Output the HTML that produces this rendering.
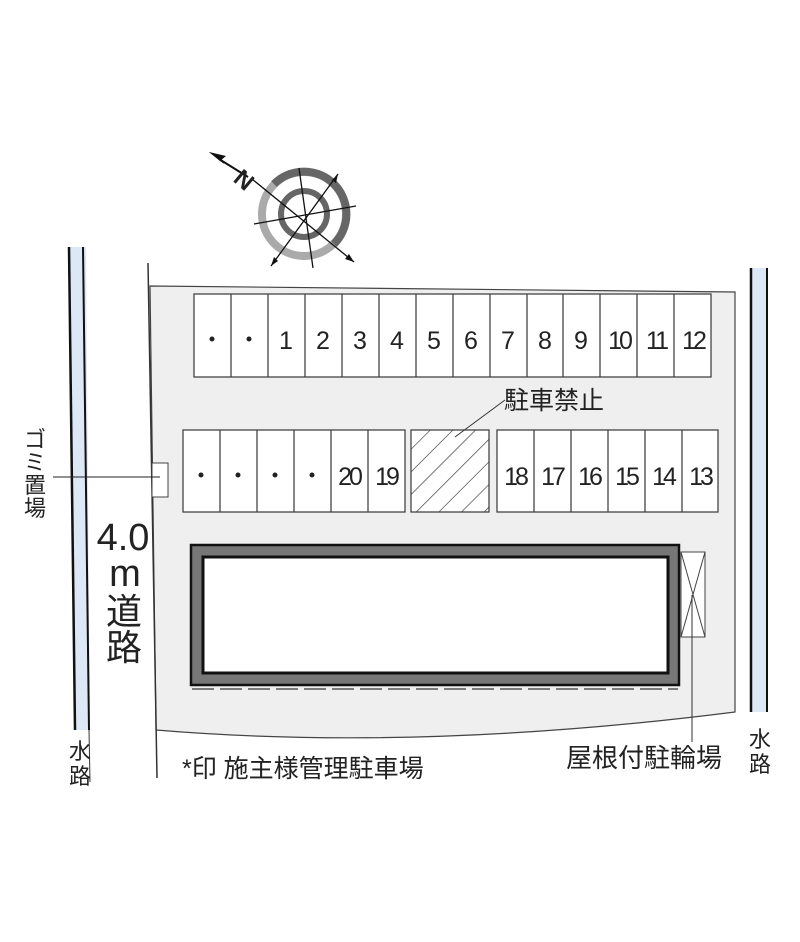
<!DOCTYPE html>
<html><head><meta charset="utf-8"><style>
html,body{margin:0;padding:0;background:#fff}
svg{display:block}
text{font-family:"Liberation Sans","Noto Sans CJK JP",sans-serif;fill:#222}
</style></head><body>
<svg width="800" height="942" viewBox="0 0 800 942" xmlns="http://www.w3.org/2000/svg">
<defs>
<pattern id="h" patternUnits="userSpaceOnUse" width="16" height="16" patternTransform="rotate(45)">
<rect width="16" height="16" fill="#fff"/><line x1="0" y1="0" x2="0" y2="16" stroke="#333" stroke-width="1.3"/>
</pattern>
</defs>
<polygon points="70,247 86,247 90,730 74,730" fill="#dde8f7"/>
<line x1="69" y1="247" x2="75" y2="730" stroke="#111" stroke-width="2.5"/>
<line x1="83" y1="247" x2="89" y2="730" stroke="#111" stroke-width="2"/>
<line x1="89" y1="730" x2="90" y2="782" stroke="#333" stroke-width="1"/>
<rect x="752" y="268" width="16" height="444" fill="#dde8f7"/>
<line x1="751" y1="268" x2="751" y2="712" stroke="#111" stroke-width="2.5"/>
<line x1="767" y1="268" x2="767" y2="712" stroke="#111" stroke-width="2"/>
<path d="M150,286 L735,292 L735,712 Q420,752 156,730 Z" fill="#efefef" stroke="#444" stroke-width="1.2"/>
<line x1="148" y1="263" x2="157" y2="778" stroke="#333" stroke-width="1.5"/>
<g stroke="#444" stroke-width="1.3" fill="#fff">
<rect x="194" y="294" width="517" height="83"/>
<rect x="183" y="430" width="222" height="82"/>
<rect x="497" y="430" width="221" height="82"/>
</g>
<rect x="411" y="430" width="78" height="82" fill="url(#h)" stroke="#444" stroke-width="1.3"/>
<g stroke="#444" stroke-width="1.3">
<line x1="231" y1="294" x2="231" y2="377"/><line x1="268" y1="294" x2="268" y2="377"/>
<line x1="305" y1="294" x2="305" y2="377"/><line x1="342" y1="294" x2="342" y2="377"/>
<line x1="379" y1="294" x2="379" y2="377"/><line x1="416" y1="294" x2="416" y2="377"/>
<line x1="453" y1="294" x2="453" y2="377"/><line x1="490" y1="294" x2="490" y2="377"/>
<line x1="527" y1="294" x2="527" y2="377"/><line x1="563" y1="294" x2="563" y2="377"/>
<line x1="600" y1="294" x2="600" y2="377"/><line x1="637" y1="294" x2="637" y2="377"/>
<line x1="674" y1="294" x2="674" y2="377"/>
<line x1="220" y1="430" x2="220" y2="512"/><line x1="257" y1="430" x2="257" y2="512"/>
<line x1="294" y1="430" x2="294" y2="512"/><line x1="331" y1="430" x2="331" y2="512"/>
<line x1="368" y1="430" x2="368" y2="512"/>
<line x1="534" y1="430" x2="534" y2="512"/><line x1="571" y1="430" x2="571" y2="512"/>
<line x1="608" y1="430" x2="608" y2="512"/><line x1="645" y1="430" x2="645" y2="512"/>
<line x1="682" y1="430" x2="682" y2="512"/>
</g>
<g fill="#222">
<circle cx="212" cy="339" r="2.5"/><circle cx="249" cy="339" r="2.5"/>
<circle cx="201" cy="475" r="2.5"/><circle cx="238" cy="475" r="2.5"/>
<circle cx="275" cy="475" r="2.5"/><circle cx="312" cy="475" r="2.5"/>
</g>
<g font-size="25" text-anchor="middle">
<text x="286" y="349">1</text><text x="323" y="349">2</text><text x="360" y="349">3</text>
<text x="397" y="349">4</text><text x="434" y="349">5</text><text x="471" y="349">6</text>
<text x="508" y="349">7</text><text x="545" y="349">8</text><text x="581" y="349">9</text>
<text x="619" y="349" letter-spacing="-3">10</text><text x="656" y="349" letter-spacing="-3">11</text><text x="693" y="349" letter-spacing="-3">12</text>
<text x="349" y="485" letter-spacing="-3">20</text><text x="386" y="485" letter-spacing="-3">19</text>
<text x="515" y="485" letter-spacing="-3">18</text><text x="552" y="485" letter-spacing="-3">17</text>
<text x="589" y="485" letter-spacing="-3">16</text><text x="626" y="485" letter-spacing="-3">15</text>
<text x="663" y="485" letter-spacing="-3">14</text><text x="700" y="485" letter-spacing="-3">13</text>
</g>
<line x1="455" y1="437" x2="505" y2="400" stroke="#333" stroke-width="1"/>
<text x="504" y="409" font-size="25">駐車禁止</text>
<rect x="191" y="545" width="488" height="140" fill="#777" stroke="#111" stroke-width="2.5"/>
<rect x="203" y="557" width="465" height="116" fill="#fff" stroke="#111" stroke-width="3"/>
<line x1="192" y1="689" x2="678" y2="689" stroke="#555" stroke-width="1.5" stroke-dasharray="22,6"/>
<rect x="681" y="552" width="24" height="85" fill="#fff" stroke="#444" stroke-width="1"/>
<line x1="681" y1="552" x2="705" y2="637" stroke="#444" stroke-width="1"/>
<line x1="705" y1="552" x2="681" y2="637" stroke="#444" stroke-width="1"/>
<line x1="692" y1="595" x2="692" y2="742" stroke="#333" stroke-width="1"/>
<text x="566" y="767" font-size="26">屋根付駐輪場</text>
<rect x="152" y="463" width="16" height="34" fill="#fff" stroke="#444" stroke-width="1"/>
<line x1="53" y1="477" x2="160" y2="477" stroke="#222" stroke-width="1"/>
<g font-size="22" text-anchor="middle">
<text x="35" y="447">ゴ</text><text x="35" y="470">ミ</text><text x="35" y="493">置</text><text x="35" y="516">場</text>
<text x="80" y="759">水</text><text x="80" y="784">路</text>
<text x="760" y="747">水</text><text x="760" y="772">路</text>
</g>
<g font-size="38" text-anchor="middle">
<text x="123" y="550">4.0</text>
<text x="125" y="586">m</text>
<text x="124" y="624" font-size="36">道</text>
<text x="124" y="660" font-size="36">路</text>
</g>
<text x="182" y="777" font-size="25">*印 施主様管理駐車場</text>
<g transform="translate(304,214)">
<circle r="42" fill="none" stroke="#aaa" stroke-width="8"/>
<path d="M-30,-30 A42,42 0 0 1 30,30" fill="none" stroke="#666" stroke-width="8"/>
<circle r="23" fill="none" stroke="#666" stroke-width="6"/>
<g stroke="#111" stroke-width="1.3">
<line x1="-52" y1="-35" x2="50" y2="48"/>
<line x1="-33" y1="52" x2="34" y2="-40"/>
<line x1="-50" y1="10" x2="52" y2="-8"/>
<line x1="-5" y1="-46" x2="9" y2="54"/>
<line x1="-85" y1="-55" x2="-56" y2="-37" stroke-width="2"/>
</g>
<polygon points="-95,-62 -80,-50 -84,-58" fill="#111"/>
<polygon points="-95,-62 -78,-58 -84,-53" fill="#111"/>
<polygon points="50,48 41,45 45,40" fill="#111"/>
<polygon points="-33,52 -30,43 -26,47" fill="#111"/>
<polygon points="34,-40 32,-31 28,-34" fill="#111"/>
<text x="-68" y="-32" font-size="24" font-weight="bold" transform="rotate(40 -68 -38)">N</text>
</g>
</svg>
</body></html>
